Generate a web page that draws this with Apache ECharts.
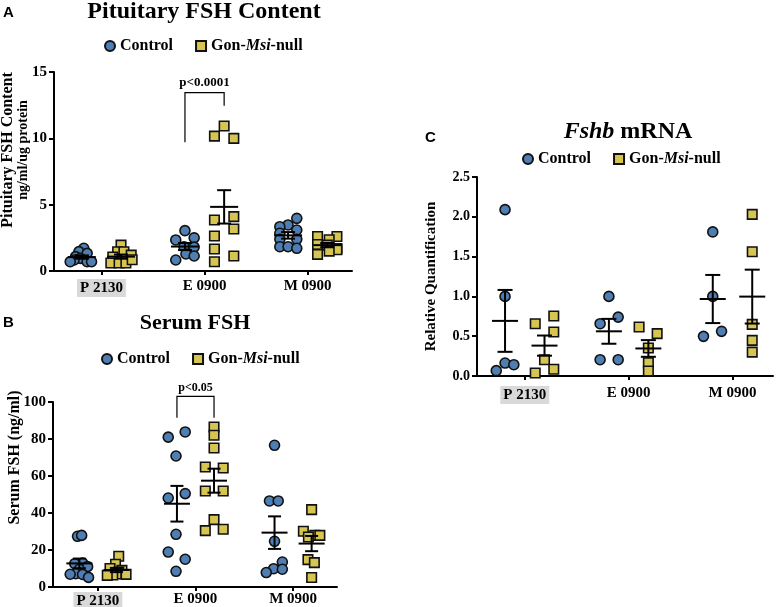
<!DOCTYPE html>
<html><head><meta charset="utf-8">
<script src="https://cdn.jsdelivr.net/npm/echarts@6/dist/echarts.min.js"></script>
<style>html,body{margin:0;padding:0;background:#fff}#c{width:777px;height:607px}</style>
</head><body><div id="c"></div>
<script>
// ---------- data ----------
const categories = ['P 2130', 'E 0900', 'M 0900'];
const groupNames = ['Control', 'Gon-Msi-null'];

// Panel A: Pituitary FSH content (ng/ml/ug protein)
const pitCtrlP = [1.71, 1.46, 1.33, 1.08, 0.95, 0.83, 0.7, 0.7, 0.7];
const pitCtrlPJit = [0.2, -0.3, 0.55, -0.65, -0.15, -0.8, 0.55, 1.0, -1.2];
const pitGonP = [1.95, 1.45, 1.45, 1.2, 1.05, 0.6, 0.6, 0.6, 0.85];
const pitGonPJit = [0, -0.35, 0.3, 1.05, -0.85, -1.05, -0.2, 0.5, 1.15];
const pitCtrlE = [3.04, 2.34, 2.5, 1.83, 1.8, 1.28, 1.13, 0.83];
const pitCtrlEJit = [0, -0.95, 0.95, -0.1, 0.95, 0.1, 0.95, -0.95];
const pitGonE = [10.93, 10.17, 10.0, 3.84, 4.1, 3.17, 2.64, 1.66, 1.13, 0.7];
const pitGonEJit = [0, -1, 1, -1, 1, 1, -1, -1, 1, -1];
const pitCtrlM = [3.97, 3.47, 3.34, 3.09, 2.84, 2.39, 2.39, 1.83, 1.83, 1.71];
const pitCtrlMJit = [0.9, 0, -0.85, 0.9, -0.85, -0.85, 0.9, -0.85, 0, 0.9];
const pitGonM = [2.6, 2.6, 2.35, 2.0, 1.95, 1.7, 1.6, 1.5, 1.25];
const pitGonMJit = [-1, 1, 0.2, -1, 0, 1, 1, 0.2, -1];

// Panel B: Serum FSH (ng/ml)
const serCtrlP = [27.4, 27.9, 13, 12.6, 11, 9.6, 7.2, 6.8, 6.9, 5.2];
const serCtrlPJit = [-0.2, 0.25, 0.35, -0.5, 0.9, 0, -0.4, 0.35, -1, 1];
const serGonP = [16.6, 12.3, 10, 9, 8.1, 7, 6.8, 6.5, 6.3];
const serGonPJit = [0.25, -0.1, -0.7, 0.6, 0.25, 0, 1.05, -0.4, -1];
const serCtrlE = [83.8, 81, 70.8, 50.5, 48.1, 28.5, 18.9, 15, 8.5];
const serCtrlEJit = [0.9, -0.95, -0.1, 0.9, -0.95, -0.1, -0.95, 0.9, -0.1];
const serGonE = [86.5, 82, 75.1, 64.9, 64.3, 51.9, 51.9, 36.4, 30.5, 31.2];
const serGonEJit = [0, 0, 0, -0.95, 1, -0.95, 1, 0, -0.95, 1];
const serCtrlM = [76.6, 46.5, 46.5, 24.7, 13.5, 9.9, 9.6, 7.8];
const serCtrlMJit = [0, -0.55, 0.4, 0, 0.85, -0.1, 0.85, -0.9];
const serGonM = [41.8, 30.1, 27.9, 27.9, 27, 14.8, 13.2, 5.1];
const serGonMJit = [0, -0.9, 0.35, 0.9, -0.35, -0.4, 0.3, 0];

// Panel C: Fshb mRNA (relative quantification)
const mrnaCtrlP = [2.09, 1.0, 0.163, 0.142, 0.067];
const mrnaCtrlPJit = [0, 0, 0, 0.9, -0.9];
const mrnaGonP = [0.754, 0.657, 0.553, 0.205, 0.084, 0.038];
const mrnaGonPJit = [0.95, -0.95, 0.95, 0, 0.95, -0.95];
const mrnaCtrlE = [1.0, 0.74, 0.657, 0.205, 0.205];
const mrnaCtrlEJit = [0, 0.95, -0.9, -0.9, 0.95];
const mrnaGonE = [0.616, 0.532, 0.352, 0.167, 0.063];
const mrnaGonEJit = [-0.95, 0.9, 0, 0, 0];
const mrnaCtrlM = [1.81, 1.0, 0.561, 0.498];
const mrnaCtrlMJit = [0, 0, 0.9, -0.95];
const mrnaGonM = [2.03, 1.56, 0.649, 0.448, 0.30];
const mrnaGonMJit = [0, 0, 0, 0, 0];

// significance annotations: [category index, left leg bottom, right leg bottom, top]
const sigA = [1, 9.7, 12.45, 13.45];
const sigALabel = 'p<0.0001';
const sigB = [1, 91.5, 91.5, 103];
const sigBLabel = 'p<0.05';

// ---------- helpers ----------
const SERIF = 'Liberation Serif';
const GROUP_OFF = 0.19;
const SLOT = 0.094;
const BLUE = '#4f7eb3';
const YELLOW = '#d6c552';

function pts(cat, side, vals, jit) {
  return vals.map((v, i) => [cat + 1 + side * GROUP_OFF + jit[i] * SLOT, v]);
}
function stats(vals) {
  const n = vals.length, m = vals.reduce((a, b) => a + b, 0) / n;
  const sd = Math.sqrt(vals.reduce((a, b) => a + (b - m) * (b - m), 0) / (n - 1));
  return [m, sd / Math.sqrt(n)];
}
function errData(ctrl, gon) {
  const out = [];
  ctrl.forEach((v, i) => { const s = stats(v); out.push([i + 1 - GROUP_OFF, s[0], s[1]]); });
  gon.forEach((v, i) => { const s = stats(v); out.push([i + 1 + GROUP_OFF, s[0], s[1]]); });
  return out;
}
function errRender(halfMean, halfCap) {
  return function (params, api) {
    const x = api.value(0), m = api.value(1), s = api.value(2);
    const c = api.coord([x, m]), t = api.coord([x, m + s]), b = api.coord([x, m - s]);
    const st = { stroke: '#000', lineWidth: 2 };
    return { type: 'group', children: [
      { type: 'line', shape: { x1: c[0] - halfMean, y1: c[1], x2: c[0] + halfMean, y2: c[1] }, style: st },
      { type: 'line', shape: { x1: t[0], y1: t[1], x2: b[0], y2: b[1] }, style: st },
      { type: 'line', shape: { x1: t[0] - halfCap, y1: t[1], x2: t[0] + halfCap, y2: t[1] }, style: st },
      { type: 'line', shape: { x1: b[0] - halfCap, y1: b[1], x2: b[0] + halfCap, y2: b[1] }, style: st }
    ] };
  };
}
function sigRender(label, fontSize) {
  return function (params, api) {
    const cat = api.value(0);
    const xl = cat + 1 - GROUP_OFF, xr = cat + 1 + GROUP_OFF;
    const p1 = api.coord([xl, api.value(1)]), p2 = api.coord([xl, api.value(3)]);
    const p3 = api.coord([xr, api.value(3)]), p4 = api.coord([xr, api.value(2)]);
    return { type: 'group', children: [
      { type: 'polyline', shape: { points: [p1, p2, p3, p4] }, style: { stroke: '#000', lineWidth: 1.2, fill: null } },
      { type: 'text', x: (p2[0] + p3[0]) / 2, y: p2[1] - 3,
        style: { text: label, align: 'center', verticalAlign: 'bottom', fontFamily: SERIF, fontWeight: 'bold', fontSize: fontSize, fill: '#000' } }
    ] };
  };
}

function xAxisDef(gridIndex, fontSize, margin) {
  return {
    type: 'value', gridIndex: gridIndex, min: 0.54, max: gridIndex === 1 ? 3.45 : (gridIndex === 2 ? 3.39 : 3.43),
    splitLine: { show: false },
    axisLine: { show: true, onZero: false, lineStyle: { color: '#000', width: 2 } },
    axisTick: { show: true, customValues: [1, 2, 3], length: 4, lineStyle: { color: '#000', width: 2 } },
    axisLabel: {
      customValues: [1, 2, 3], margin: margin,
      color: '#000', fontFamily: SERIF, fontWeight: 'bold', fontSize: fontSize,
      formatter: function (v) {
        const i = Math.round(v) - 1;
        return i === 0 ? '{g|' + categories[i] + '}' : categories[i];
      },
      rich: { g: { backgroundColor: '#d9d9d9', padding: [2, 3, 1, 3], fontFamily: SERIF, fontWeight: 'bold', fontSize: fontSize, color: '#000' } }
    }
  };
}
function yAxisDef(gridIndex, max, interval, fontSize, name, nameSize, nameGap, namePad, fmt, rich) {
  return {
    type: 'value', gridIndex: gridIndex, min: 0, max: max, interval: interval,
    name: name, nameLocation: 'middle', nameGap: nameGap, nameMoveOverlap: false,
    nameTextStyle: { color: '#000', fontFamily: SERIF, fontWeight: 'bold', fontSize: nameSize, lineHeight: nameSize + 1, padding: namePad, rich: rich },
    splitLine: { show: false },
    axisLine: { show: true, lineStyle: { color: '#000', width: 2 } },
    axisTick: { show: true, length: 5, lineStyle: { color: '#000', width: 2 } },
    axisLabel: { color: '#000', fontFamily: SERIF, fontWeight: 'bold', fontSize: fontSize, margin: 7, formatter: fmt }
  };
}
function scatter(name, gi, data, isGon, size) {
  return {
    type: 'scatter', name: name, xAxisIndex: gi, yAxisIndex: gi, data: data, z: 2,
    symbol: isGon ? 'rect' : 'circle', symbolSize: size,
    itemStyle: { color: isGon ? YELLOW : BLUE, borderColor: '#111', borderWidth: 1.6, opacity: 1 },
    emphasis: { disabled: true }
  };
}
function legendDef(left, top) {
  return {
    left: left, top: top, itemWidth: 10, itemHeight: 10, itemGap: 22, padding: 0,
    data: [{ name: 'Control', icon: 'circle' }, { name: 'Gon-Msi-null', icon: 'rect' }],
    formatter: function (n) { return n === 'Gon-Msi-null' ? 'Gon-{i|Msi}-null' : n; },
    textStyle: { color: '#000', fontFamily: SERIF, fontWeight: 'bold', fontSize: 16,
      rich: { i: { fontStyle: 'italic', fontFamily: SERIF, fontWeight: 'bold', fontSize: 16, color: '#000' } } }
  };
}
function titleDef(text, left, top, size, sans) {
  return { text: text, left: left, top: top, padding: 0, textAlign: sans ? 'left' : 'center',
    textStyle: { color: '#000', fontFamily: sans ? 'Liberation Sans' : SERIF, fontWeight: 'bold', fontSize: size,
      rich: { i: { fontStyle: 'italic', fontWeight: 'bold', fontFamily: SERIF, fontSize: size, color: '#000' } } } };
}

const pitNameRich = {
  a: { fontFamily: SERIF, fontWeight: 'bold', fontSize: 16, lineHeight: 16, color: '#000' },
  b: { fontFamily: SERIF, fontWeight: 'bold', fontSize: 14, lineHeight: 15, color: '#000' }
};

const chart = echarts.init(document.getElementById('c'), null, { renderer: 'canvas' });
chart.setOption({
  backgroundColor: '#fff',
  animation: false,
  title: [
    titleDef('A', 3, 5, 15, true),
    titleDef('Pituitary FSH Content', 204, 0, 24, false),
    titleDef('B', 3, 315, 15, true),
    titleDef('Serum FSH', 195, 312, 22, false),
    titleDef('C', 425, 130, 15, true),
    titleDef('{i|Fshb} mRNA', 628, 120, 24, false)
  ],
  legend: [legendDef(104, 38), legendDef(101, 351), legendDef(522, 151)],
  grid: [
    { left: 54, top: 72, width: 298, height: 199, outerBoundsMode: 'none' },
    { left: 53, top: 402, width: 284, height: 185, outerBoundsMode: 'none' },
    { left: 477, top: 177, width: 296, height: 199, outerBoundsMode: 'none' }
  ],
  xAxis: [xAxisDef(0, 15, 8), xAxisDef(1, 15, 5), xAxisDef(2, 15, 10)],
  yAxis: [
    yAxisDef(0, 15, 5, 15, '{a|Pituitary FSH Content}\n{b|ng/ml/ug protein}', 16, 23, [0, 0, 0, 43], undefined, pitNameRich),
    yAxisDef(1, 100, 20, 15, 'Serum FSH (ng/ml)', 16, 30, [0, 0, 0, 74]),
    yAxisDef(2, 2.5, 0.5, 14, 'Relative Quantification', 15, 38, [0, 0, 0, 0], function (v) { return v.toFixed(1); })
  ],
  series: [
    scatter('Control', 0, [].concat(pts(0, -1, pitCtrlP, pitCtrlPJit), pts(1, -1, pitCtrlE, pitCtrlEJit), pts(2, -1, pitCtrlM, pitCtrlMJit)), false, 10),
    scatter('Gon-Msi-null', 0, [].concat(pts(0, 1, pitGonP, pitGonPJit), pts(1, 1, pitGonE, pitGonEJit), pts(2, 1, pitGonM, pitGonMJit)), true, 9.5),
    scatter('Control', 1, [].concat(pts(0, -1, serCtrlP, serCtrlPJit), pts(1, -1, serCtrlE, serCtrlEJit), pts(2, -1, serCtrlM, serCtrlMJit)), false, 10),
    scatter('Gon-Msi-null', 1, [].concat(pts(0, 1, serGonP, serGonPJit), pts(1, 1, serGonE, serGonEJit), pts(2, 1, serGonM, serGonMJit)), true, 9.5),
    scatter('Control', 2, [].concat(pts(0, -1, mrnaCtrlP, mrnaCtrlPJit), pts(1, -1, mrnaCtrlE, mrnaCtrlEJit), pts(2, -1, mrnaCtrlM, mrnaCtrlMJit)), false, 10),
    scatter('Gon-Msi-null', 2, [].concat(pts(0, 1, mrnaGonP, mrnaGonPJit), pts(1, 1, mrnaGonE, mrnaGonEJit), pts(2, 1, mrnaGonM, mrnaGonMJit)), true, 9.5),
    { type: 'custom', xAxisIndex: 0, yAxisIndex: 0, z: 5, silent: true, renderItem: errRender(14, 7),
      encode: { x: 0, y: 1 }, data: errData([pitCtrlP, pitCtrlE, pitCtrlM], [pitGonP, pitGonE, pitGonM]) },
    { type: 'custom', xAxisIndex: 1, yAxisIndex: 1, z: 5, silent: true, renderItem: errRender(13, 6.5),
      encode: { x: 0, y: 1 }, data: errData([serCtrlP, serCtrlE, serCtrlM], [serGonP, serGonE, serGonM]) },
    { type: 'custom', xAxisIndex: 2, yAxisIndex: 2, z: 5, silent: true, renderItem: errRender(13, 7.5),
      encode: { x: 0, y: 1 }, data: errData([mrnaCtrlP, mrnaCtrlE, mrnaCtrlM], [mrnaGonP, mrnaGonE, mrnaGonM]) },
    { type: 'custom', xAxisIndex: 0, yAxisIndex: 0, z: 5, silent: true, clip: false, renderItem: sigRender(sigALabel, 13),
      encode: { x: 0, y: 1 }, data: [sigA] },
    { type: 'custom', xAxisIndex: 1, yAxisIndex: 1, z: 5, silent: true, clip: false, renderItem: sigRender(sigBLabel, 12),
      encode: { x: 0, y: 1 }, data: [sigB] }
  ]
});
</script>
</body></html>
